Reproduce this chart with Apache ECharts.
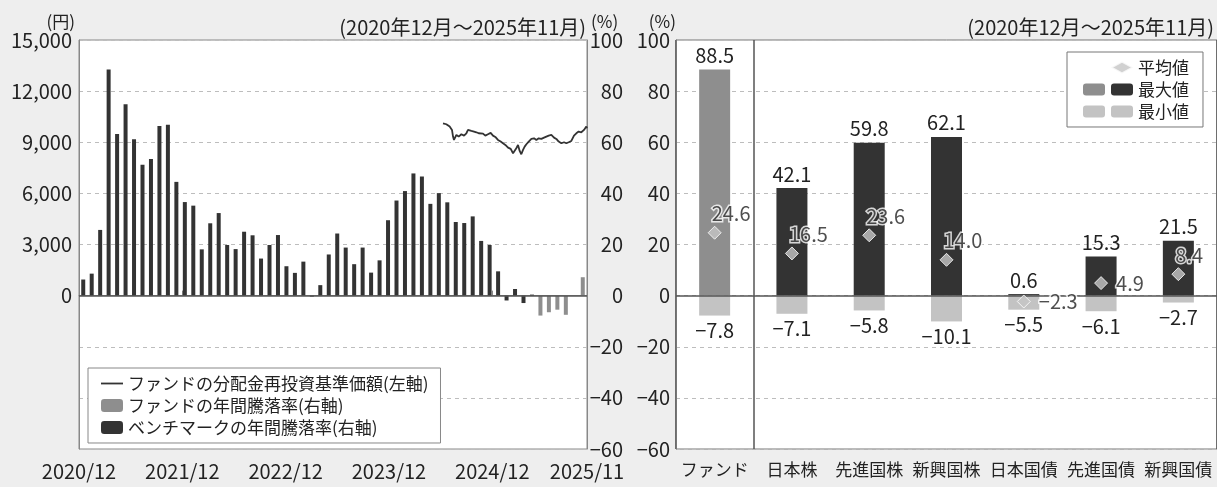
<!DOCTYPE html>
<html><head><meta charset="utf-8">
<script src="https://cdn.jsdelivr.net/npm/echarts@6/dist/echarts.min.js"></script>
<style>html,body{margin:0;padding:0;background:#eeeeee}#c{width:1217px;height:487px}</style>
</head><body><div id="c"></div>
<script>
// ---- Left chart data ----
const months = ['2020/12','2021/01','2021/02','2021/03','2021/04','2021/05','2021/06','2021/07','2021/08','2021/09','2021/10','2021/11',
  '2021/12','2022/01','2022/02','2022/03','2022/04','2022/05','2022/06','2022/07','2022/08','2022/09','2022/10','2022/11',
  '2022/12','2023/01','2023/02','2023/03','2023/04','2023/05','2023/06','2023/07','2023/08','2023/09','2023/10','2023/11',
  '2023/12','2024/01','2024/02','2024/03','2024/04','2024/05','2024/06','2024/07','2024/08','2024/09','2024/10','2024/11',
  '2024/12','2025/01','2025/02','2025/03','2025/04','2025/05','2025/06','2025/07','2025/08','2025/09','2025/10','2025/11'];
const benchmarkReturn = [6.3, 8.6, 25.7, 88.5, 63.2, 74.9, 61.2, 51.2, 53.4, 66.4,
  66.8, 44.5, 36.6, 35.2, 18.1, 28.3, 32.3, 19.8, 18.2, 25.0,
  23.6, 14.5, 19.8, 23.7, 11.5, 8.9, 13.3, -0.4, 4.1, 16.1,
  24.3, 18.8, 12.3, 18.8, 9.0, 13.8, 29.5, 37.2, 40.9, 47.8,
  46.6, 35.9, 40.1, 36.5, 28.8, 28.4, 31.0, 21.4, 19.8, 9.5,
  -1.9, 2.6, -2.9, 0.4, null, null, null, null, null, null];
const fundReturnMonths = ['2025/06','2025/07','2025/08','2025/09','2025/10','2025/11'];
const fundReturnValues = [-7.8, -6.5, -5.5, -7.5, null, 7.2];
// NAV line: position in months from 2020/12 on the date axis, value in yen
const navX = [42.28,42.66,43.05,43.32,43.44,43.55,43.83,44.10,44.41,44.72,44.99,45.18,45.37,45.57,45.88,46.15,
  46.42,46.65,46.92,47.19,47.50,47.81,48.08,48.35,48.66,48.97,49.24,49.52,49.83,50.14,50.41,50.60,
  50.79,50.99,51.18,51.37,51.57,51.76,51.96,52.23,52.54,52.85,53.12,53.39,53.70,54.01,54.28,54.55,
  54.86,55.17,55.44,55.71,56.02,56.33,56.60,56.87,57.18,57.49,57.76,58.03,58.34,58.65,58.92,59.0];
const navY = [10114,10056,9919,9723,9332,9136,9430,9332,9469,9390,9527,9723,9821,9664,9625,9586,
  9527,9430,9508,9390,9469,9547,9390,9312,9136,9038,8940,8843,8686,8608,8353,8256,
  8647,8843,8491,8295,8549,8745,8882,9038,9195,9234,9136,9234,9195,9273,9332,9390,
  9430,9273,9195,9038,8940,8999,8940,8999,9077,9390,9527,9625,9586,9723,9919,9821];
const xTickValues = [0, 12, 24, 36, 48, 59];
const xTickLabels = ['2020/12','2021/12','2022/12','2023/12','2024/12','2025/11'];
const periodLabel = '(2020年12月～2025年11月)';
const navName = 'ファンドの分配金再投資基準価額(左軸)';
const fundBarName = 'ファンドの年間騰落率(右軸)';
const benchName = 'ベンチマークの年間騰落率(右軸)';

// ---- Right chart data ----
const assetClasses = ['ファンド','日本株','先進国株','新興国株','日本国債','先進国債','新興国債'];
const maxReturns = [88.5, 42.1, 59.8, 62.1, 0.6, 15.3, 21.5];
const minReturns = [-7.8, -7.1, -5.8, -10.1, -5.5, -6.1, -2.7];
const avgReturns = [24.6, 16.5, 23.6, 14.0, -2.3, 4.9, 8.4];

const font = '"Noto Sans CJK JP", "Noto Sans", sans-serif';
const C_DARK = '#333333', C_FUND = '#8e8e8e', C_LIGHT = '#c3c3c3', C_AVG = '#c6c6c6';
const minus = '\u2212';
const fmt1 = v => (v < 0 ? minus + Math.abs(v).toFixed(1) : v.toFixed(1));
const fmtPct = v => (v < 0 ? minus + Math.abs(v) : String(v));
const fmtYen = v => (v < 0 ? '' : String(v).replace(/\B(?=(\d{3})+(?!\d))/g, ','));
const xLabelMap = {};
xTickValues.forEach((v, i) => { xLabelMap[v] = xTickLabels[i]; });

const fundData = fundReturnMonths.map((m, i) => [m, fundReturnValues[i]]);
const navData = navX.map((x, i) => [x, navY[i]]);
const zeroLine = {silent: true, symbol: 'none', label: {show: false}, lineStyle: {color: '#555', type: 'solid', width: 1.5}, data: [{yAxis: 0}]};
const dash = {type: [4, 4], color: '#bdbdbd', width: 1};
const txt = {color: '#222', fontFamily: font};

const chart = echarts.init(document.getElementById('c'));
chart.setOption({
  backgroundColor: '#eeeeee',
  textStyle: {fontFamily: font},
  animation: false,
  title: [
    {text: periodLabel, right: 631, top: 17, padding: 0, textStyle: Object.assign({fontSize: 20, fontWeight: 'normal'}, txt)},
    {text: periodLabel, right: 3, top: 17, padding: 0, textStyle: Object.assign({fontSize: 20, fontWeight: 'normal'}, txt)}
  ],
  grid: [
    {left: 79, top: 40, width: 508, height: 409, show: true, backgroundColor: '#fff', borderColor: '#888', borderWidth: 1},
    {left: 676, top: 40, right: -2, height: 409, show: true, backgroundColor: '#fff', borderColor: '#777', borderWidth: 1}
  ],
  legend: [
    {data: [{name: navName, icon: 'path://M0,0 L22,0 L22,1.8 L0,1.8 Z'}, fundBarName, benchName],
     orient: 'vertical', left: 88, top: 368,
     padding: [7, 12, 7, 13], itemGap: 5, itemWidth: 22, itemHeight: 13,
     backgroundColor: '#fff', borderColor: '#888', borderWidth: 1, selectedMode: false,
     textStyle: Object.assign({fontSize: 17}, txt)},
    {data: ['平均値', '最大値', '最小値'], orient: 'vertical', left: 1067, top: 52,
     padding: [7, 14, 7, 43], itemGap: 5, itemWidth: 22, itemHeight: 12,
     backgroundColor: '#fff', borderColor: '#777', borderWidth: 1, selectedMode: false,
     textStyle: Object.assign({fontSize: 17}, txt)},
    {data: [{name: '平均値', itemStyle: {opacity: 0}}, 'ファンド最大値', 'ファンド最小値'], orient: 'vertical', left: 1082, top: 52,
     padding: [7, 0, 7, 0], itemGap: 5, itemWidth: 22, itemHeight: 12, z: 6, selectedMode: false,
     formatter: () => '\u3000', textStyle: Object.assign({fontSize: 17}, txt)}
  ],
  xAxis: [
    {type: 'value', gridIndex: 0, min: 0, max: 59, interval: 12,
     axisLine: {show: true, lineStyle: {color: '#888'}},
     axisTick: {show: true, inside: true, length: 5, lineStyle: {color: '#888'}},
     axisLabel: Object.assign({fontSize: 20, margin: 12, formatter: v => xLabelMap[v] || ''}, txt),
     splitLine: {show: false}},
    {type: 'category', gridIndex: 0, data: months, show: false},
    {type: 'category', gridIndex: 1, data: assetClasses,
     axisLine: {show: false}, axisTick: {show: false},
     axisLabel: Object.assign({fontSize: 17, margin: 12, interval: 0}, txt),
     splitLine: {show: true, interval: i => i <= 1, lineStyle: {color: '#555', width: 1.5}}}
  ],
  yAxis: [
    {type: 'value', gridIndex: 0, min: -9000, max: 15000, interval: 3000,
     name: '(円)', nameLocation: 'end', nameGap: 8,
     nameTextStyle: Object.assign({fontSize: 17, align: 'right', padding: [0, 4, 0, 0]}, txt),
     axisLine: {show: true, lineStyle: {color: '#888'}}, axisTick: {show: false},
     axisLabel: Object.assign({fontSize: 20, margin: 7, formatter: fmtYen}, txt),
     splitLine: {show: false}},
    {type: 'value', gridIndex: 0, position: 'right', min: -60, max: 100, interval: 20,
     name: '(%)', nameLocation: 'end', nameGap: 10,
     nameTextStyle: Object.assign({fontSize: 17, align: 'left', padding: [0, 0, 0, 4]}, txt),
     axisLine: {show: true, lineStyle: {color: '#888'}}, axisTick: {show: false},
     axisLabel: Object.assign({fontSize: 20, margin: 36, align: 'right', formatter: fmtPct}, txt),
     splitLine: {show: true, lineStyle: dash}},
    {type: 'value', gridIndex: 1, min: -60, max: 100, interval: 20,
     name: '(%)', nameLocation: 'end', nameGap: 10,
     nameTextStyle: Object.assign({fontSize: 17, align: 'right'}, txt),
     axisLine: {show: true, lineStyle: {color: '#777'}}, axisTick: {show: false},
     axisLabel: Object.assign({fontSize: 20, margin: 6, formatter: fmtPct}, txt),
     splitLine: {show: true, lineStyle: dash}}
  ],
  series: [
    {name: benchName, type: 'bar', xAxisIndex: 1, yAxisIndex: 1, data: benchmarkReturn,
     barWidth: 4, barGap: '-100%', itemStyle: {color: C_DARK}, markLine: zeroLine},
    {name: fundBarName, type: 'bar', xAxisIndex: 1, yAxisIndex: 1, data: fundData,
     barWidth: 4, barGap: '-100%', itemStyle: {color: C_FUND}},
    {name: navName, type: 'line', xAxisIndex: 0, yAxisIndex: 0, data: navData,
     symbol: 'none', showSymbol: false, lineStyle: {color: C_DARK, width: 1.8}, itemStyle: {color: C_DARK}, z: 5},

    {name: '最大値', type: 'bar', xAxisIndex: 2, yAxisIndex: 2, barWidth: 31, barGap: '-100%',
     data: maxReturns.map((v, i) => assetClasses[i] === 'ファンド' ? {value: v, itemStyle: {color: C_FUND}} : v),
     itemStyle: {color: C_DARK},
     label: Object.assign({show: true, position: 'top', distance: 4, fontSize: 20, formatter: p => fmt1(p.value)}, txt),
     markLine: zeroLine},
    {name: '最小値', type: 'bar', xAxisIndex: 2, yAxisIndex: 2, barWidth: 31, barGap: '-100%',
     data: minReturns, itemStyle: {color: C_LIGHT},
     label: Object.assign({show: true, position: 'bottom', distance: 5, fontSize: 20, formatter: p => fmt1(p.value)}, txt)},
    {name: 'ファンド最大値', type: 'bar', xAxisIndex: 2, yAxisIndex: 2, barWidth: 31, barGap: '-100%', data: [], itemStyle: {color: C_FUND}},
    {name: 'ファンド最小値', type: 'bar', xAxisIndex: 2, yAxisIndex: 2, barWidth: 31, barGap: '-100%', data: [], itemStyle: {color: C_LIGHT}},
    {name: '平均値', type: 'scatter', xAxisIndex: 2, yAxisIndex: 2, symbol: 'diamond', symbolSize: 13, z: 5,
     itemStyle: {color: C_AVG, borderColor: '#fff', borderWidth: 1},
     data: avgReturns.map(v => ({value: v,
       label: Math.abs(v) < 5 ? {position: 'right', distance: 8, align: 'left', verticalAlign: 'middle'}
                              : {position: [4, -12], align: 'left', verticalAlign: 'middle'}})),
     label: Object.assign({show: true, fontSize: 20, textBorderColor: '#fff', textBorderWidth: 3, formatter: p => fmt1(p.value)}, txt)}
  ]
});
</script></body></html>
